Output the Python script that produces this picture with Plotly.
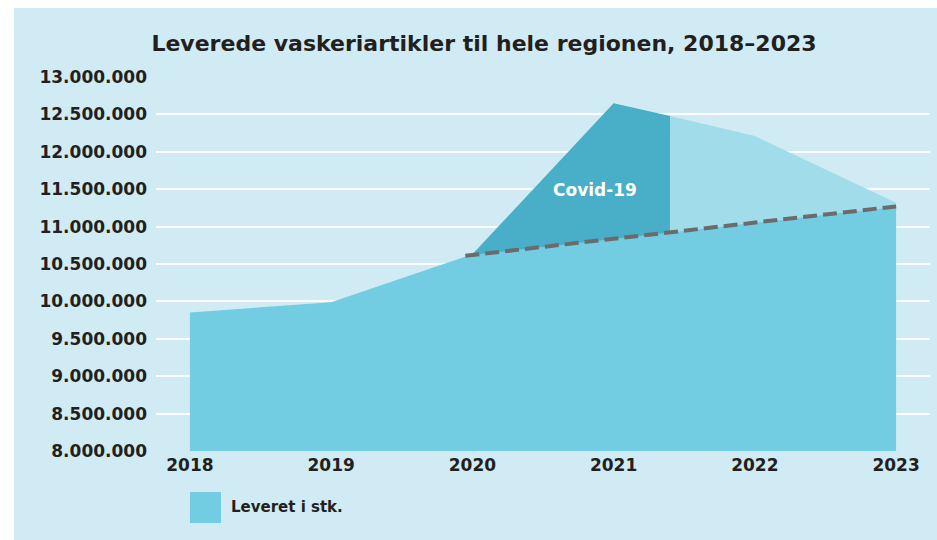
import plotly.graph_objects as go

# --- data ---
years = [2018, 2019, 2020, 2021, 2022, 2023]
leveret = [9_850_000, 9_990_000, 10_630_000, 12_650_000, 12_210_000, 11_320_000]

# dashed trend line (start, covid split, end)
trend_years = [2019.95, 2021.4, 2023]
trend_vals = [10_610_000, 10_920_000, 11_270_000]

# where the dark covid block ends
covid_split_year = 2021.4
covid_split_val = 12_480_000

y_ticks = [8_000_000 + i * 500_000 for i in range(11)]

BG = "#d0ebf3"
MAIN = "#72cde3"
DARK = "#49aec8"
LIGHT = "#a1dcea"
TEXT = "#231f20"
FONT = "DejaVu Sans"

W, H = 937, 540
L, R, T, B = 156, 7, 77, 89
PW, PH = W - L - R, H - T - B


def px_x(x):
    return (x - L) / PW


def px_y(y):
    return (H - B - y) / PH


fig = go.Figure()

# base area: measured values up to 2020, then along the trend line
fig.add_trace(go.Scatter(
    x=years[:3] + [trend_years[-1]],
    y=leveret[:3] + [trend_vals[-1]],
    fill="tozeroy", mode="none", fillcolor=MAIN,
    name="Leveret i stk.", showlegend=False, hoverinfo="skip"
))

# covid peak block
fig.add_trace(go.Scatter(
    x=[years[2], years[3], covid_split_year, covid_split_year, trend_years[0], years[2]],
    y=[leveret[2], leveret[3], covid_split_val, trend_vals[1], trend_vals[0], leveret[2]],
    fill="toself", mode="none", fillcolor=DARK, showlegend=False, hoverinfo="skip"
))

# excess after covid block
fig.add_trace(go.Scatter(
    x=[covid_split_year, years[4], years[5], years[5], covid_split_year, covid_split_year],
    y=[covid_split_val, leveret[4], leveret[5], trend_vals[2], trend_vals[1], covid_split_val],
    fill="toself", mode="none", fillcolor=LIGHT, showlegend=False, hoverinfo="skip"
))

# trend line
fig.add_trace(go.Scatter(
    x=[trend_years[0], trend_years[-1]],
    y=[trend_vals[0], trend_vals[-1]],
    mode="lines", line=dict(color="#6b6b6b", width=4, dash="14px,6px"),
    showlegend=False, hoverinfo="skip"
))

fig.add_annotation(
    x=2020.87, y=11_490_000, text="<b>Covid-19</b>", showarrow=False,
    font=dict(family=FONT, size=17, color="white")
)

# legend (drawn by hand to get the big square)
fig.add_shape(type="rect", xref="paper", yref="paper",
              x0=px_x(190), x1=px_x(221), y0=px_y(523), y1=px_y(492),
              fillcolor=MAIN, line=dict(width=0))
fig.add_annotation(
    xref="paper", yref="paper", x=px_x(229), y=px_y(507),
    xanchor="left", yanchor="middle", showarrow=False,
    text="<b>Leveret i stk.</b>", font=dict(family=FONT, size=15, color=TEXT)
)

# white strips round the panel
fig.add_shape(type="rect", xref="paper", yref="paper",
              x0=px_x(0), x1=px_x(14), y0=px_y(H), y1=px_y(0),
              fillcolor="white", line=dict(width=0))
fig.add_shape(type="rect", xref="paper", yref="paper",
              x0=px_x(0), x1=px_x(W), y0=px_y(8), y1=px_y(0),
              fillcolor="white", line=dict(width=0))

fig.update_layout(
    width=W, height=H,
    margin=dict(l=L, r=R, t=T, b=B),
    paper_bgcolor=BG, plot_bgcolor=BG,
    separators=",.",
    title=dict(
        text="<b>Leverede vaskeriartikler til hele regionen, 2018–2023</b>",
        x=484 / W, xanchor="center", y=1 - 43 / H, yanchor="middle",
        font=dict(family=FONT, size=22, color=TEXT)
    ),
    font=dict(family=FONT, color=TEXT),
)

tick_font = dict(family=FONT, size=17, color=TEXT, weight="bold")
fig.update_xaxes(
    range=[2017.76, 2023.24], tickvals=years, ticktext=[str(y) for y in years],
    showgrid=False, zeroline=False, showline=False,
    tickfont=tick_font, ticklabelstandoff=2
)
fig.update_yaxes(
    range=[8_000_000, 13_000_000], tickvals=y_ticks, tickformat=",d",
    gridcolor="white", gridwidth=1.5, zeroline=False, showline=False,
    tickfont=tick_font, ticklabelstandoff=8
)

# page body has a default 8px margin; drop it so the figure sits at 0,0
fig.write_html(
    "out.html",
    config={"displayModeBar": False},
    post_script="document.body.style.margin='0';",
)
